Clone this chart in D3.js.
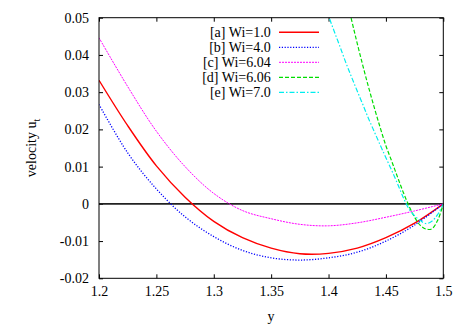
<!DOCTYPE html>
<html>
<head>
<meta charset="utf-8">
<script src="https://cdn.jsdelivr.net/npm/d3@7"></script>
<style>
  body { margin: 0; background: #fff; }
  text { font-family: "Liberation Serif", "Times New Roman", serif; fill: #000; }
</style>
</head>
<body>
<script>
// grid for the three slow curves
var yGrid = [1.2, 1.225, 1.25, 1.275, 1.3, 1.325, 1.35, 1.375, 1.4, 1.425, 1.45, 1.475, 1.5];
var uWi1 = [0.0332, 0.0210, 0.0102, 0.0018, -0.0047, -0.0091, -0.0119, -0.0134, -0.0133, -0.0119, -0.0091, -0.0052, 0];
var uWi4 = [0.0267, 0.0137, 0.0040, -0.0035, -0.0088, -0.0125, -0.0145, -0.0151, -0.0145, -0.0130, -0.0100, -0.0057, 0];
var uWi604 = [0.0446, 0.0315, 0.0195, 0.0100, 0.0028, -0.0018, -0.0040, -0.0055, -0.0059, -0.0051, -0.0036, -0.0019, 0];

// finer grid near the wall for the fast curves
var yFine = [1.395, 1.4, 1.405, 1.41, 1.415, 1.42, 1.425, 1.43, 1.435, 1.44, 1.445, 1.45, 1.455, 1.46, 1.465, 1.47, 1.475, 1.48, 1.485, 1.49, 1.495, 1.5];
var uWi606 = [null, null, null, null, 0.0562, 0.0495, 0.0431, 0.0370, 0.0312, 0.0257, 0.0205, 0.0156, 0.0115, 0.0073, 0.0032, -0.0005, -0.0036, -0.0058, -0.0068, -0.0067, -0.0045, 0];
var uWi7 = [0.0550, 0.0505, 0.0463, 0.0422, 0.0380, 0.0341, 0.0303, 0.0266, 0.0228, 0.0193, 0.0158, 0.0124, 0.0090, 0.0055, 0.0018, -0.0013, -0.0032, -0.0045, -0.0053, -0.0047, -0.0029, 0];

var legendLabels = ["[a] Wi=1.0", "[b] Wi=4.0", "[c] Wi=6.04", "[d] Wi=6.06", "[e] Wi=7.0"];
var xTicks = [1.2, 1.25, 1.3, 1.35, 1.4, 1.45, 1.5];
var yTicks = [-0.02, -0.01, 0, 0.01, 0.02, 0.03, 0.04, 0.05];

function pairs(xs, vs) {
    var out = [];
    for (var i = 0; i < xs.length; i++) {
        if (vs[i] !== null) out.push([xs[i], vs[i]]);
    }
    return out;
}

var series = [
    { pts: pairs(yGrid, uWi1), color: "#ff0000", dash: null, w: 1.4 },
    { pts: pairs(yGrid, uWi4), color: "#0000ff", dash: "1.2,1.6", w: 1.3 },
    { pts: pairs(yGrid, uWi604), color: "#ff00ff", dash: "2,1", w: 1 },
    { pts: pairs(yFine, uWi606), color: "#00dd00", dash: "4,2", w: 1.2 },
    { pts: pairs(yFine, uWi7), color: "#00eeee", dash: "5,2,1.5,2", w: 1.2 }
];

var W = 465, H = 326;
var pl = 99, pr = 443.3, pt = 17.7, pb = 278.3;

var svg = d3.select("body").append("svg")
    .attr("width", W)
    .attr("height", H);

var x = d3.scaleLinear().domain([1.2, 1.5]).range([pl, pr]);
var y = d3.scaleLinear().domain([-0.02, 0.05]).range([pb, pt]);

svg.append("clipPath").attr("id", "plotclip")
    .append("rect")
    .attr("x", pl).attr("y", pt)
    .attr("width", pr - pl).attr("height", pb - pt);

// axes with inward ticks, mirrored on top and right
var tickLen = 4;
var fmt = function(d) { return String(+d.toFixed(2)); };
svg.append("g")
    .attr("transform", "translate(0," + pb + ")")
    .call(d3.axisBottom(x).tickValues(xTicks).tickSize(-tickLen).tickPadding(8).tickFormat(fmt))
    .call(function(g) { g.select(".domain").remove(); });
svg.append("g")
    .attr("transform", "translate(0," + pt + ")")
    .call(d3.axisTop(x).tickValues(xTicks).tickSize(-tickLen).tickFormat(""))
    .call(function(g) { g.select(".domain").remove(); });
svg.append("g")
    .attr("transform", "translate(" + pl + ",0)")
    .call(d3.axisLeft(y).tickValues(yTicks).tickSize(-tickLen).tickPadding(10).tickFormat(fmt))
    .call(function(g) { g.select(".domain").remove(); });
svg.append("g")
    .attr("transform", "translate(" + pr + ",0)")
    .call(d3.axisRight(y).tickValues(yTicks).tickSize(-tickLen).tickFormat(""))
    .call(function(g) { g.select(".domain").remove(); });

svg.selectAll(".tick text")
    .style("font-family", "'Liberation Serif', serif")
    .style("font-size", "14px")
    .style("fill", "#000");
svg.selectAll(".tick line").attr("stroke", "#000");

// zero line
svg.append("line")
    .attr("x1", pl).attr("x2", pr)
    .attr("y1", y(0)).attr("y2", y(0))
    .attr("stroke", "#222")
    .attr("stroke-width", 1.8);

var line = d3.line()
    .x(function(d) { return x(d[0]); })
    .y(function(d) { return y(d[1]); })
    .curve(d3.curveCatmullRom.alpha(0.5));

svg.append("g")
    .attr("clip-path", "url(#plotclip)")
    .selectAll("path")
    .data(series)
    .enter().append("path")
    .attr("d", function(d) { return line(d.pts); })
    .attr("fill", "none")
    .attr("stroke", function(d) { return d.color; })
    .attr("stroke-width", function(d) { return d.w; })
    .attr("stroke-dasharray", function(d) { return d.dash; });

// border
svg.append("rect")
    .attr("x", pl).attr("y", pt)
    .attr("width", pr - pl).attr("height", pb - pt)
    .attr("fill", "none")
    .attr("stroke", "#000")
    .attr("stroke-width", 1);

// legend
var leg = svg.append("g").selectAll("g")
    .data(series)
    .enter().append("g")
    .attr("transform", function(d, i) { return "translate(0," + (32.3 + i * 15) + ")"; });
leg.append("text")
    .attr("x", 270.7)
    .attr("dy", "0.35em")
    .attr("text-anchor", "end")
    .style("font-size", "14px")
    .text(function(d, i) { return legendLabels[i]; });
leg.append("line")
    .attr("x1", 279).attr("x2", 319)
    .attr("stroke", function(d) { return d.color; })
    .attr("stroke-width", function(d) { return d.w; })
    .attr("stroke-dasharray", function(d) { return d.dash; });

// axis titles
svg.append("text")
    .attr("x", 271).attr("y", 321)
    .attr("text-anchor", "middle")
    .style("font-size", "14px")
    .text("y");

var yl = svg.append("text")
    .attr("transform", "translate(36,148) rotate(-90)")
    .attr("text-anchor", "middle")
    .style("font-size", "14px");
yl.append("tspan").text("velocity u");
yl.append("tspan").attr("dy", 4).style("font-size", "10px").text("t");
</script>
</body>
</html>
